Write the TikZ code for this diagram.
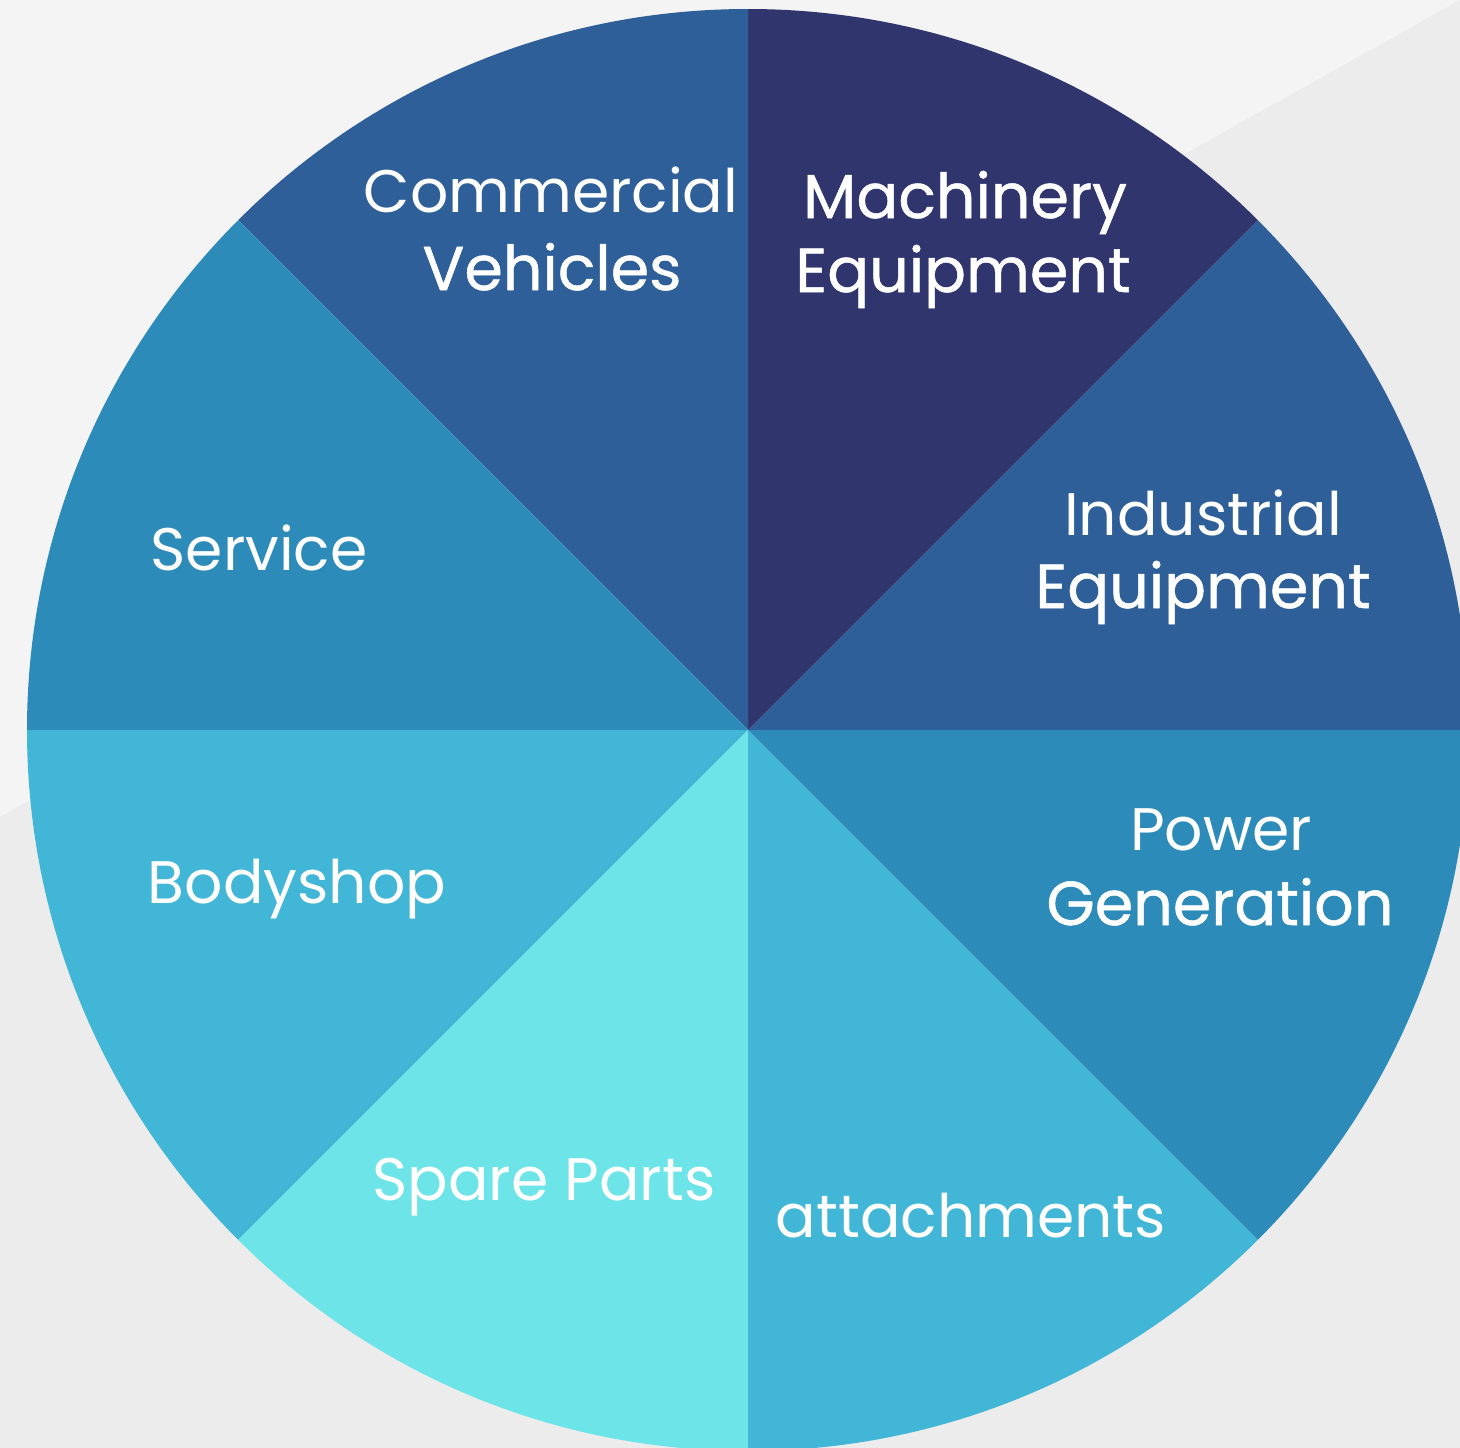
\documentclass[tikz,border=0pt]{standalone}
\usepackage{fontspec}
\setmainfont{Poppins}
\newfontfamily\medfont[FakeBold=0.8]{Poppins}
\definecolor{bglight}{HTML}{F4F4F4}
\definecolor{bgdark}{HTML}{ECECEC}
\definecolor{segA}{HTML}{31356E}
\definecolor{segB}{HTML}{2E5F99}
\definecolor{segC}{HTML}{2D8BBA}
\definecolor{segD}{HTML}{41B6D6}
\definecolor{segE}{HTML}{6CE4E8}
\begin{document}
\begin{tikzpicture}[x=1pt,y=-1pt,
  lbl/.style={anchor=base,inner sep=0pt,text=white,font=\fontsize{60}{72}\selectfont},
  lblm/.style={anchor=base,inner sep=0pt,text=white,font=\medfont\fontsize{62}{72}\selectfont}]
\useasboundingbox (0,0) rectangle (1460,1448);
\clip (0,0) rectangle (1460,1448);
\fill[bglight] (0,0) rectangle (1460,1448);
\fill[bgdark] (0,817) -- (1460,0) -- (1460,1448) -- (0,1448) -- cycle;
\begin{scope}[shift={(748,730)}]
  \clip (0,0) circle[radius=721pt];
  \foreach \a/\b/\c in {0/45/segB,45/90/segA,90/135/segB,135/180/segC,180/225/segD,225/270/segE,270/315/segD,315/360/segC}
    \fill[\c] (0,0) -- (-\a:1000) -- (-\b:1000) -- cycle;
\end{scope}
\node[lbl] (cv1) at (551,212) {Commercial};
\node[lblm] (cv2) at (552,290) {Vehicles};
\node[lblm] (me1) at (965,218) {Machinery};
\node[lblm] (me2) at (963,292) {Equipment};
\node[lbl] (ie1) at (1203,535) {Industrial};
\node[lblm] (ie2) at (1203,608) {Equipment};
\node[lbl] (sv) at (259,570) {Service};
\node[lbl] (pg1) at (1221,850) {Power};
\node[lblm] (pg2) at (1220,925) {Generation};
\node[lbl] (bs) at (297,903) {Bodyshop};
\node[lbl] (sp) at (544,1200) {Spare Parts};
\node[lbl] (at) at (971,1237) {attachments};
\end{tikzpicture}
\end{document}
